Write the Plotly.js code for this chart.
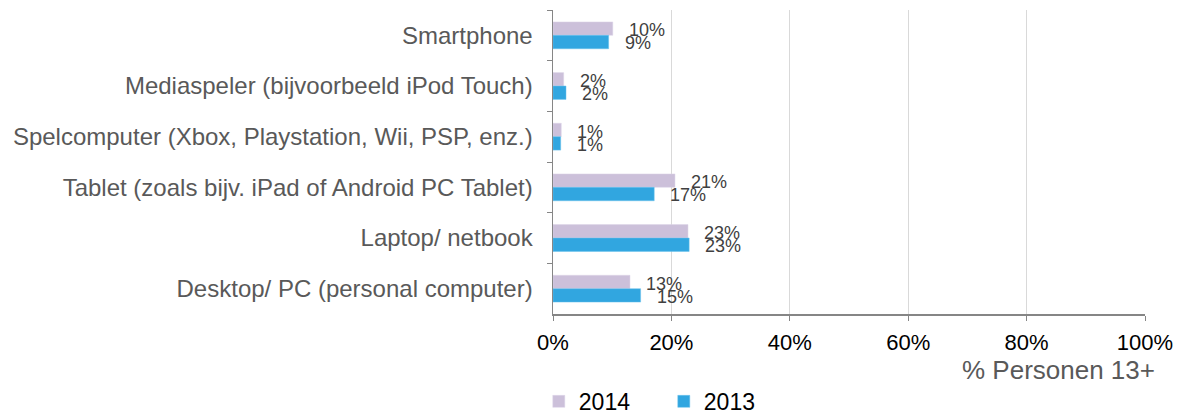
<!DOCTYPE html>
<html>
<head>
<meta charset="utf-8">
<script src="https://cdn.plot.ly/plotly-3.0.1.min.js"></script>
<style>html,body{margin:0;padding:0;background:#fff;}#chart{width:1184px;height:419px;}</style>
</head>
<body>
<div id="chart"></div>
<script>
const categories = [
  "Smartphone",
  "Mediaspeler (bijvoorbeeld iPod Touch)",
  "Spelcomputer (Xbox, Playstation, Wii, PSP, enz.)",
  "Tablet (zoals bijv. iPad of Android PC Tablet)",
  "Laptop/ netbook",
  "Desktop/ PC (personal computer)"
];
const values2014 = [10.1, 1.8, 1.4, 20.6, 22.8, 13.0];
const values2013 = [9.4, 2.2, 1.3, 17.1, 23.0, 14.8];
const seriesNames = ["2014", "2013"];
const xTickVals = [0, 20, 40, 60, 80, 100];
const xTickText = ["0%", "20%", "40%", "60%", "80%", "100%"];
const noteText = "% Personen 13+";

const colors = ["#ccc0da", "#31a6e0"];
const font = "'Liberation Sans', Arial, sans-serif";

const traces = [values2014, values2013].map((vals, i) => ({
  type: "bar",
  orientation: "h",
  name: seriesNames[i],
  x: vals,
  y: categories,
  marker: {color: colors[i], line: {color: i === 0 ? "#ddd5e8" : "#6cc2ec", width: 0.5}},
  hoverinfo: "x+y+name"
}));

const annotations = [];
[values2014, values2013].forEach((vals, i) => {
  vals.forEach((v, j) => {
    annotations.push({
      x: v, y: categories[j], xref: "x", yref: "y",
      text: Math.round(v) + "%",
      showarrow: false, xanchor: "left", yanchor: "middle",
      xshift: 14, yshift: i === 0 ? 5 : -8,
      font: {family: font, size: 18, color: "#404040"}
    });
  });
});
annotations.push({
  x: 1.0, y: -0.184, xref: "paper", yref: "paper",
  text: noteText, showarrow: false, xanchor: "right", yanchor: "middle", xshift: 12,
  font: {family: font, size: 26, color: "#595959"}
});

const layout = {
  width: 1184, height: 419,
  margin: {l: 553, r: 39, t: 10, b: 105},
  paper_bgcolor: "#ffffff", plot_bgcolor: "#ffffff",
  barmode: "group", bargap: 0.47, bargroupgap: 0,
  showlegend: true,
  legend: {
    orientation: "h", x: -0.024, xanchor: "left",
    yref: "container", y: 0.042, yanchor: "middle",
    font: {family: font, size: 23, color: "#000000"},
    traceorder: "normal", itemwidth: 30, entrywidth: 80, entrywidthmode: "pixels",
    borderwidth: 0
  },
  xaxis: {
    range: [0, 100], tickvals: xTickVals, ticktext: xTickText,
    showgrid: true, gridcolor: "#d9d9d9", gridwidth: 1,
    showline: true, linecolor: "#868686", linewidth: 1.5,
    ticks: "outside", ticklen: 5, tickcolor: "#868686",
    tickfont: {family: font, size: 22, color: "#000000"},
    ticklabelstandoff: 3,
    zeroline: false, fixedrange: true
  },
  yaxis: {
    type: "category", autorange: "reversed",
    showline: true, linecolor: "#868686", linewidth: 1.5,
    ticks: "outside", ticklen: 5, tickcolor: "#868686", tickson: "boundaries",
    tickfont: {family: font, size: 24, color: "#595959"},
    ticklabelstandoff: 14,
    showgrid: false, zeroline: false, fixedrange: true
  },
  annotations: annotations
};

Plotly.newPlot("chart", traces, layout, {displayModeBar: false, staticPlot: true});
</script>
</body>
</html>
